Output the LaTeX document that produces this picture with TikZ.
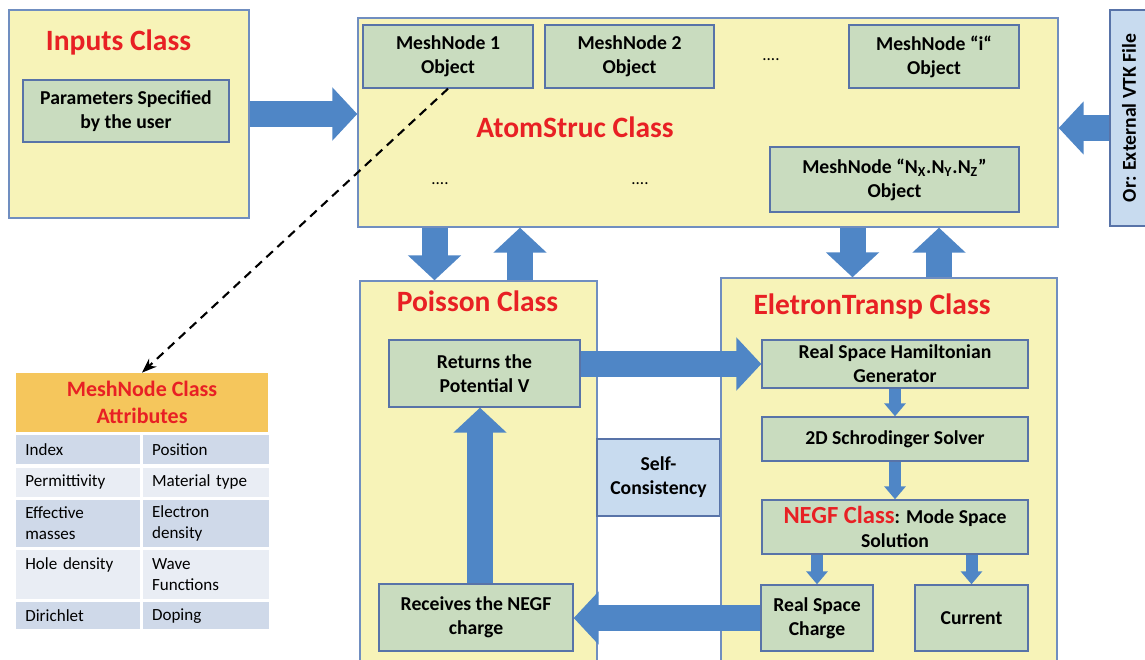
\documentclass[tikz,border=0pt]{standalone}
\usepackage{fontspec}
\setmainfont{Carlito}
\usepackage{xcolor}
\usetikzlibrary{arrows.meta, positioning, calc}

\definecolor{clsyellow}{RGB}{247,243,184}
\definecolor{clsline}{RGB}{112,142,192}
\definecolor{objgreen}{RGB}{201,220,191}
\definecolor{objline}{RGB}{88,115,168}
\definecolor{arrowblue}{RGB}{79,134,198}
\definecolor{noteblue}{RGB}{200,219,239}
\definecolor{titlered}{RGB}{232,32,36}
\definecolor{hdrgold}{RGB}{245,198,92}
\definecolor{rowdark}{RGB}{207,217,233}
\definecolor{rowlight}{RGB}{233,237,244}

\newcommand{\clsfont}{\fontsize{16.8}{19}\selectfont\bfseries}
\newcommand{\objfont}{\fontsize{11.2}{13.6}\selectfont\bfseries}
\newcommand{\negffont}{\fontsize{14}{16}\selectfont}
\newcommand{\hdrfont}{\fontsize{12.5}{15.4}\selectfont\bfseries}
\newcommand{\cellfont}{\fontsize{9.7}{12}\selectfont}

\begin{document}
\begin{tikzpicture}[
    x=0.02cm, y=-0.02cm,
    node distance=0.05cm and 0.04cm,
    >=Stealth,
    % Styles
    sz/.style 2 args={minimum width=#1*0.02cm, minimum height=#2*0.02cm},
    classbox/.style={draw=clsline, fill=clsyellow, line width=0.8pt, inner sep=0pt},
    objbox/.style={draw=objline, fill=objgreen, line width=0.8pt, inner sep=0pt, font=\objfont, align=center},
    notebox/.style={draw=objline, fill=noteblue, line width=0.8pt, inner sep=0pt, font=\objfont, align=center},
    classtitle/.style={font=\clsfont, text=titlered},
    dots/.style={font=\cellfont},
    cell/.style={fill=#1, font=\cellfont, align=left, inner xsep=0.18cm, inner ysep=0pt},
    bigarrow/.style={-{Triangle[length=0.5cm, width=1.04cm]}, line width=0.52cm, draw=arrowblue},
    smallarrow/.style={-{Triangle[length=0.26cm, width=0.42cm]}, line width=0.24cm, draw=arrowblue},
]
\useasboundingbox (0,0) rectangle (1145,659);

% ── Inputs ──
\node[classbox, sz={240}{208}] (inputs) at (129,114) {};
\node[classtitle] (inputstitle) at (118.5,42) {Inputs Class};
\node[objbox, sz={206}{62}] (params) at (126,111) {Parameters Specified\\by the user};

% ── AtomStruc ──
\node[classbox, sz={700}{209}] (atom) at (708,122.5) {};
\node[classtitle] (atomtitle) at (575,127) {AtomStruc Class};
\node[objbox, sz={170}{63}] (mn1) at (448,56.5) {MeshNode 1\\Object};
\node[objbox, sz={169}{63}] (mn2) at (629.5,56.5) {MeshNode 2\\Object};
\node[dots] (dots1) at (771,60) {....};
\node[objbox, sz={170}{63}] (mni) at (934,56.5) {MeshNode “i“\\Object};
\node[dots] (dots2) at (440,184) {....};
\node[dots] (dots3) at (640,184) {....};
\node[objbox, sz={249}{65}] (mnN) at (894.5,179.5) {MeshNode “N\textsubscript{X}.N\textsubscript{Y}.N\textsubscript{Z}”\\Object};

\node[notebox, sz={38}{216}] (vtk) at (1129,118) {\rotatebox{90}{Or: External VTK File}};

% ── Poisson ──
\node[classbox, sz={237}{383}] (poisson) at (478.5,472.5) {};
\node[classtitle] (poissontitle) at (477.5,301) {Poisson Class};
\node[objbox, sz={191}{67}] (ret) at (484.5,373.5) {Returns the\\Potential V};
\node[objbox, sz={194}{67}] (rec) at (476,617.5) {Receives the NEGF\\charge};

\node[notebox, sz={123}{77}] (selfc) at (658.5,477.5) {Self-\\Consistency};

% ── EletronTransp ──
\node[classbox, sz={336}{386}] (etransp) at (889,471) {};
\node[classtitle] (etransptitle) at (872,306) {EletronTransp Class};
\node[objbox, sz={266}{48}] (ham) at (895,364) {Real Space Hamiltonian\\Generator};
\node[objbox, sz={266}{44}] (schr) at (895,439) {2D Schrodinger Solver};
\node[objbox, sz={266}{54}] (negf) at (895,527) {{\color{titlered}\negffont NEGF Class}: Mode Space\\Solution};
\node[objbox, sz={112}{66}] (rsc) at (817,618) {Real Space\\Charge};
\node[objbox, sz={113}{66}] (cur) at (971.5,618) {Current};

% ── MeshNode attributes table ──
\node[fill=hdrgold, sz={252}{59}, inner sep=0pt, font=\hdrfont, text=titlered, align=center] (hdr) at (142,402.5) {MeshNode Class\\Attributes};
\node[cell=rowdark, text width=2.12cm, sz={124}{29}, anchor=north west] (c11) at (16,435) {Index};
\node[cell=rowdark, text width=2.16cm, sz={126}{29}, right=of c11] (c12) {Position};
\node[cell=rowlight, text width=2.12cm, sz={124}{29}, below=of c11] (c21) {Permittivity};
\node[cell=rowlight, text width=2.16cm, sz={126}{29}, right=of c21] (c22) {Material type};
\node[cell=rowdark, text width=2.12cm, sz={124}{47}, below=of c21] (c31) {Effective\\masses};
\node[cell=rowdark, text width=2.16cm, sz={126}{47}, right=of c31] (c32) {Electron\\density};
\node[cell=rowlight, text width=2.12cm, sz={124}{49}, below=of c31] (c41) {Hole density\\\mbox{}};
\node[cell=rowlight, text width=2.16cm, sz={126}{49}, right=of c41] (c42) {Wave\\Functions};
\node[cell=rowdark, text width=2.12cm, sz={124}{27}, below=of c41] (c51) {Dirichlet};
\node[cell=rowdark, text width=2.16cm, sz={126}{27}, right=of c51] (c52) {Doping};

% ── Arrows ──
\draw[bigarrow] (inputs.east) -- (inputs.east -| atom.west);
\draw[bigarrow] ([yshift=-0.2cm]vtk.west) -- ([yshift=-0.2cm]vtk.west -| atom.east);
\draw[bigarrow] ([xshift=-0.88cm]poisson.north |- atom.south) -- ([xshift=-0.88cm]poisson.north);
\draw[bigarrow] ([xshift=0.83cm]poisson.north) -- ([xshift=0.83cm]poisson.north |- atom.south);
\draw[bigarrow] ([xshift=-0.73cm]etransp.north |- atom.south) -- ([xshift=-0.73cm]etransp.north);
\draw[bigarrow] ([xshift=1.0cm]etransp.north) -- ([xshift=1.0cm]etransp.north |- atom.south);
\draw[bigarrow] (ret.east |- ham.west) -- (ham.west);
\draw[bigarrow] (rsc.west) -- (rsc.west -| rec.east);
\draw[bigarrow] ([xshift=0.08cm]rec.north) -- ([xshift=0.08cm]rec.north |- ret.south);

\draw[smallarrow] (ham.south) -- (schr.north);
\draw[smallarrow] (schr.south) -- (negf.north);
\draw[smallarrow] (rsc.north |- negf.south) -- (rsc.north);
\draw[smallarrow] (cur.north |- negf.south) -- (cur.north);

\draw[->, line width=1.2pt, dash pattern=on 5pt off 3.5pt] (mn1.south) -- (hdr.north);

\end{tikzpicture}
\end{document}
